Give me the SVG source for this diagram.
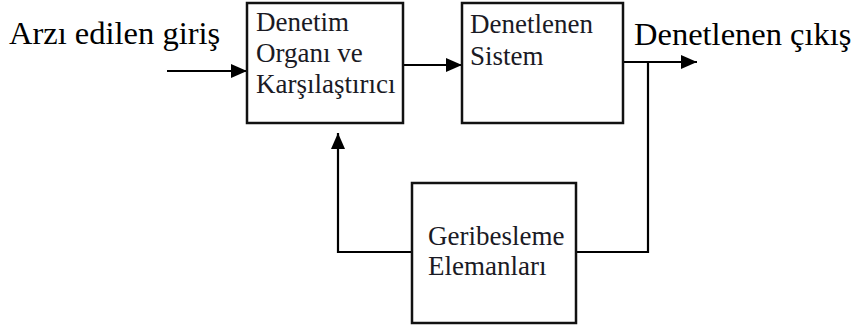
<svg xmlns="http://www.w3.org/2000/svg" width="861" height="332" viewBox="0 0 861 332">
<defs>
<marker id="ah" viewBox="0 0 16 14" refX="16" refY="7" markerWidth="16" markerHeight="14" markerUnits="userSpaceOnUse" orient="auto">
<path d="M0,0 L16,7 L0,14 Z" fill="#000"/>
</marker>
</defs>
<style>
.box{fill:#fff;stroke:#111;stroke-width:2.5}
.lbl{font-family:"Liberation Serif","Times New Roman",serif;font-size:27px;fill:#1a1a24}
.big{font-family:"Liberation Serif","Times New Roman",serif;font-size:32.5px;fill:#000}
.ln{fill:none;stroke:#000;stroke-width:2.2}
</style>
<rect width="861" height="332" fill="#fff"/>
<text class="big" x="9" y="44">Arzı edilen giriş</text>
<text class="big" x="634" y="45">Denetlenen çıkış</text>
<g id="connectors">
<line class="ln" x1="167" y1="71" x2="247" y2="71" marker-end="url(#ah)"/>
<line class="ln" x1="403" y1="65" x2="462" y2="65" marker-end="url(#ah)"/>
<line class="ln" x1="623" y1="62" x2="697" y2="62" marker-end="url(#ah)"/>
<polyline class="ln" points="648,62 648,252 576,252"/>
<polyline class="ln" points="412,252 338,252 338,133" marker-end="url(#ah)"/>
</g>
<g id="n1">
<rect class="box" x="247" y="3" width="156" height="120"/>
<text class="lbl" x="256" y="31">Denetim</text>
<text class="lbl" x="256" y="62">Organı ve</text>
<text class="lbl" x="256" y="93">Karşılaştırıcı</text>
</g>
<g id="n2">
<rect class="box" x="462" y="3" width="161" height="120"/>
<text class="lbl" x="470" y="33">Denetlenen</text>
<text class="lbl" x="470" y="65">Sistem</text>
</g>
<g id="n3">
<rect class="box" x="412" y="183" width="164" height="140"/>
<text class="lbl" x="428" y="245">Geribesleme</text>
<text class="lbl" x="428" y="275">Elemanları</text>
</g>
</svg>
